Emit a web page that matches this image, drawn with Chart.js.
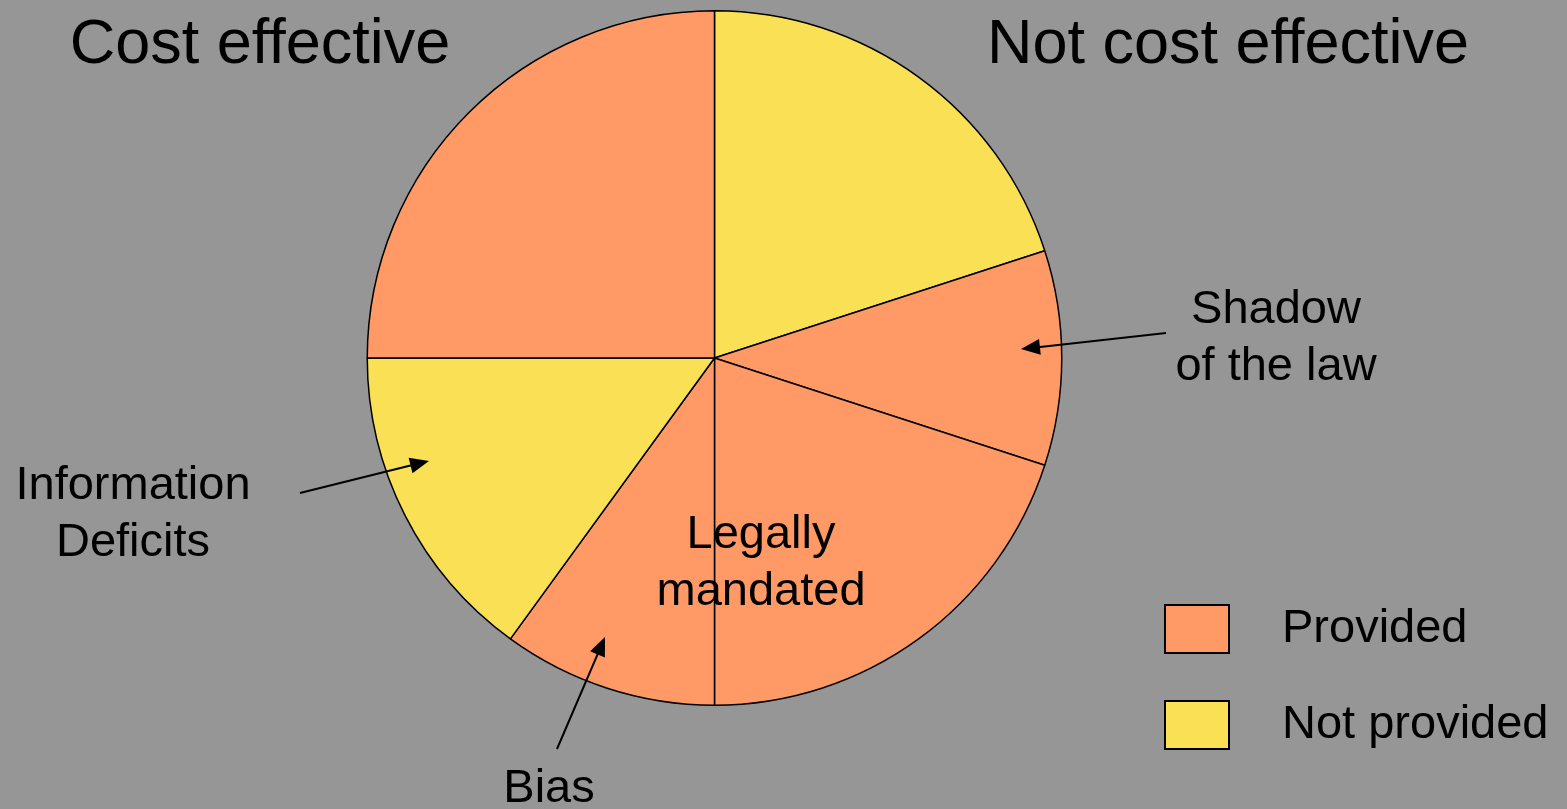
<!DOCTYPE html>
<html>
<head>
<meta charset="utf-8">
<script src="https://cdn.jsdelivr.net/npm/chart.js@4"></script>
<style>
  html, body { margin: 0; padding: 0; background: #969696; }
  #wrap { width: 1567px; height: 809px; position: relative; }
</style>
</head>
<body>
<div id="wrap"><canvas id="pie"></canvas></div>
<script>
// slices clockwise from 12 o'clock
const categories = ['Not cost effective', 'Shadow of the law', 'Legally mandated', 'Bias', 'Information Deficits', 'Cost effective'];
const shares = [20, 10, 20, 10, 15, 25];
const provision = ['Not provided', 'Provided', 'Provided', 'Provided', 'Not provided', 'Provided'];
const legendLabels = ['Provided', 'Not provided'];

const colores = { 'Provided': '#FF9966', 'Not provided': '#FAE055' };
const FONT = '"Liberation Sans", Arial, sans-serif';

// texto y flechas encima del pastel
const anotaciones = {
  id: 'anotaciones',
  afterDraw(chart) {
    const ctx = chart.ctx;
    ctx.save();
    ctx.fillStyle = '#000';
    ctx.textAlign = 'center';
    ctx.textBaseline = 'middle';

    ctx.font = '63px ' + FONT;
    ctx.fillText('Cost effective', 260, 46);
    ctx.fillText('Not cost effective', 1228, 46);

    ctx.font = '47px ' + FONT;
    const textos = [
      [['Shadow', 'of the law'], 1276, 310],
      [['Information', 'Deficits'], 133, 486],
      [['Legally', 'mandated'], 761, 535],
      [['Bias'], 549, 789]
    ];
    textos.forEach(([lineas, x, y]) => {
      lineas.forEach((l, i) => ctx.fillText(l, x, y + i * 57));
    });

    const flecha = (x0, y0, x1, y1) => {
      ctx.strokeStyle = '#000';
      ctx.lineWidth = 2;
      const a = Math.atan2(y1 - y0, x1 - x0);
      const L = 19, W = 8;
      ctx.beginPath();
      ctx.moveTo(x0, y0);
      ctx.lineTo(x1 - (L - 2) * Math.cos(a), y1 - (L - 2) * Math.sin(a));
      ctx.stroke();
      ctx.beginPath();
      ctx.moveTo(x1, y1);
      ctx.lineTo(x1 - L * Math.cos(a) + W * Math.sin(a), y1 - L * Math.sin(a) - W * Math.cos(a));
      ctx.lineTo(x1 - L * Math.cos(a) - W * Math.sin(a), y1 - L * Math.sin(a) + W * Math.cos(a));
      ctx.closePath();
      ctx.fill();
    };
    flecha(1166, 333, 1021, 349);
    flecha(300, 493, 429, 461);
    flecha(557, 749, 605, 637);

    // leyenda
    legendLabels.forEach((lab, i) => {
      const y = 605 + i * 96;
      ctx.fillStyle = colores[lab];
      ctx.fillRect(1165, y, 64, 48);
      ctx.strokeStyle = '#000';
      ctx.lineWidth = 2;
      ctx.strokeRect(1165, y, 64, 48);
      ctx.fillStyle = '#000';
      ctx.textAlign = 'left';
      ctx.fillText(lab, 1282, y + 24);
    });
    ctx.restore();
  }
};

new Chart(document.getElementById('pie'), {
  type: 'pie',
  data: {
    labels: categories,
    datasets: [{
      data: shares,
      backgroundColor: provision.map(p => colores[p]),
      borderColor: '#000',
      borderWidth: 1.5,
      borderAlign: 'center'
    }]
  },
  options: {
    responsive: true,
    maintainAspectRatio: false,
    animation: false,
    layout: { padding: { top: 10, bottom: 103, left: 366, right: 504 } },
    plugins: {
      legend: { display: false },
      tooltip: { enabled: false }
    }
  },
  plugins: [anotaciones]
});
</script>
</body>
</html>
